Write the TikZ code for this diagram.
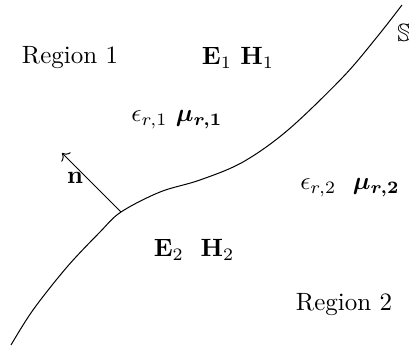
\documentclass[tikz,border=0pt]{standalone}
\usepackage{amsmath,amssymb,bm}
\usetikzlibrary{arrows.meta, positioning, calc}

\begin{document}
\begin{tikzpicture}[x=0.4pt, y=-0.4pt,
    lbl/.style={inner sep=0pt}]
    \useasboundingbox (0,0) rectangle (409,354);
    % interface S
    \draw[thin] plot[smooth, tension=0.55] coordinates {(11,345) (33,310) (67,267) (100,232) (121,212)
        (160,192) (200,180) (243,162) (288,130) (343,77) (377,37) (402,5)};
    \coordinate (foot) at (121,212);
    \coordinate (tip) at (62,153);
    \draw[thin, -{To}] (foot) -- (tip);
    \node[lbl] (n) at (75,178) {$\mathbf{n}$};
    \node[lbl, anchor=west] (surf) at (397,33) {$\mathbb{S}$};
    % region 1
    \node[lbl] (reg1) at (70,58) {Region 1};
    \node[lbl] (fields1) at (238,58) {$\mathbf{E}_1\ \mathbf{H}_1$};
    \node[lbl] (mat1) at (177,120) {$\epsilon_{r,1}\ \bm{\mu_{r,1}}$};
    % region 2
    \node[lbl] (mat2) at (350,188) {$\epsilon_{r,2}\ \ \bm{\mu_{r,2}}$};
    \node[lbl] (fields2) at (194,250) {$\mathbf{E}_2\ \ \mathbf{H}_2$};
    \node[lbl] (reg2) at (344,305) {Region 2};
\end{tikzpicture}
\end{document}
